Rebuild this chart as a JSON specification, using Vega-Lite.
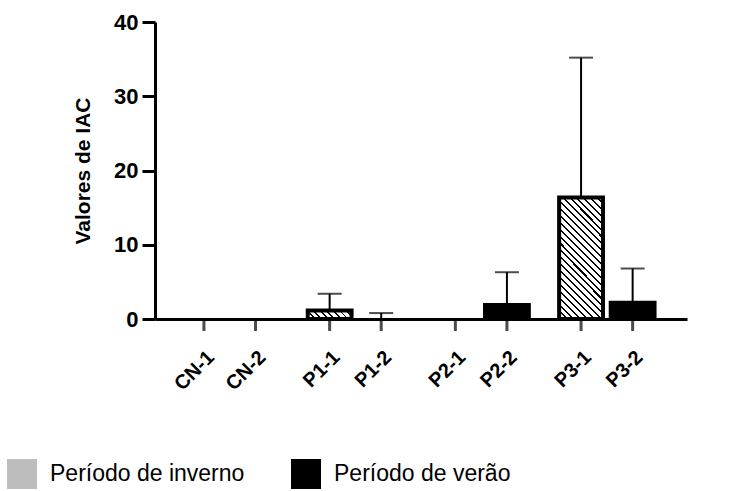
{
  "$schema": "https://vega.github.io/schema/vega-lite/v6.json",
  "width": 532,
  "height": 297,
  "autosize": {"type": "none"},
  "padding": {"left": 155, "top": 22, "right": 43, "bottom": 172},
  "background": "white",
  "config": {"view": {"stroke": null}},
  "data": {"values": [
    {"label": "CN-1", "group": "CN", "period": "Período de inverno", "mean": 0, "upper": null},
    {"label": "CN-2", "group": "CN", "period": "Período de verão", "mean": 0, "upper": null},
    {"label": "P1-1", "group": "P1", "period": "Período de inverno", "mean": 1.15, "upper": 3.4},
    {"label": "P1-2", "group": "P1", "period": "Período de verão", "mean": 0, "upper": 0.8},
    {"label": "P2-1", "group": "P2", "period": "Período de inverno", "mean": 0, "upper": null},
    {"label": "P2-2", "group": "P2", "period": "Período de verão", "mean": 1.9, "upper": 6.3},
    {"label": "P3-1", "group": "P3", "period": "Período de inverno", "mean": 16.35, "upper": 35.2},
    {"label": "P3-2", "group": "P3", "period": "Período de verão", "mean": 2.2, "upper": 6.8}
  ]},
  "encoding": {
    "x": {"field": "group", "type": "nominal", "sort": ["CN", "P1", "P2", "P3"],
      "scale": {"paddingInner": 0.2, "paddingOuter": 0.216, "align": 0.45},
      "axis": {"labels": false, "ticks": false, "title": null, "domainWidth": 3, "domainColor": "black"}},
    "xOffset": {"field": "period", "type": "nominal", "sort": ["Período de inverno", "Período de verão"],
      "scale": {"paddingInner": 0.15, "paddingOuter": 0.05}}
  },
  "layer": [
    {
      "transform": [{"filter": "datum.mean > 0"}],
      "mark": {"type": "bar", "stroke": "black", "strokeWidth": 4, "strokeJoin": "miter"},
      "encoding": {
        "y": {"field": "mean", "type": "quantitative", "title": "Valores de IAC",
          "scale": {"domain": [0, 40], "nice": false},
          "axis": {"values": [0, 10, 20, 30, 40], "grid": false, "domainWidth": 3, "domainColor": "black",
            "tickSize": 13, "tickWidth": 3, "tickColor": "black", "labelPadding": 4,
            "labelFont": "Liberation Sans", "labelFontWeight": "bold", "labelFontSize": 22, "labelColor": "black",
            "titleFont": "Liberation Sans", "titleFontWeight": "bold", "titleFontSize": 21, "titleColor": "black", "titlePadding": 20}},
        "color": {
          "condition": [
            {"test": "datum.label === 'P3-1'", "value": {"gradient": "linear", "x1": 0, "y1": 1, "x2": 0.437, "y2": -0.204, "stops": [
              {"offset": 0, "color": "black"}, {"offset": 0.0125, "color": "black"}, {"offset": 0.0125, "color": "white"}, {"offset": 0.0417, "color": "white"},
              {"offset": 0.0417, "color": "black"}, {"offset": 0.0542, "color": "black"}, {"offset": 0.0542, "color": "white"}, {"offset": 0.0833, "color": "white"},
              {"offset": 0.0833, "color": "black"}, {"offset": 0.0958, "color": "black"}, {"offset": 0.0958, "color": "white"}, {"offset": 0.125, "color": "white"},
              {"offset": 0.125, "color": "black"}, {"offset": 0.1375, "color": "black"}, {"offset": 0.1375, "color": "white"}, {"offset": 0.1667, "color": "white"},
              {"offset": 0.1667, "color": "black"}, {"offset": 0.1792, "color": "black"}, {"offset": 0.1792, "color": "white"}, {"offset": 0.2083, "color": "white"},
              {"offset": 0.2083, "color": "black"}, {"offset": 0.2208, "color": "black"}, {"offset": 0.2208, "color": "white"}, {"offset": 0.25, "color": "white"},
              {"offset": 0.25, "color": "black"}, {"offset": 0.2625, "color": "black"}, {"offset": 0.2625, "color": "white"}, {"offset": 0.2917, "color": "white"},
              {"offset": 0.2917, "color": "black"}, {"offset": 0.3042, "color": "black"}, {"offset": 0.3042, "color": "white"}, {"offset": 0.3333, "color": "white"},
              {"offset": 0.3333, "color": "black"}, {"offset": 0.3458, "color": "black"}, {"offset": 0.3458, "color": "white"}, {"offset": 0.375, "color": "white"},
              {"offset": 0.375, "color": "black"}, {"offset": 0.3875, "color": "black"}, {"offset": 0.3875, "color": "white"}, {"offset": 0.4167, "color": "white"},
              {"offset": 0.4167, "color": "black"}, {"offset": 0.4292, "color": "black"}, {"offset": 0.4292, "color": "white"}, {"offset": 0.4583, "color": "white"},
              {"offset": 0.4583, "color": "black"}, {"offset": 0.4708, "color": "black"}, {"offset": 0.4708, "color": "white"}, {"offset": 0.5, "color": "white"},
              {"offset": 0.5, "color": "black"}, {"offset": 0.5125, "color": "black"}, {"offset": 0.5125, "color": "white"}, {"offset": 0.5417, "color": "white"},
              {"offset": 0.5417, "color": "black"}, {"offset": 0.5542, "color": "black"}, {"offset": 0.5542, "color": "white"}, {"offset": 0.5833, "color": "white"},
              {"offset": 0.5833, "color": "black"}, {"offset": 0.5958, "color": "black"}, {"offset": 0.5958, "color": "white"}, {"offset": 0.625, "color": "white"},
              {"offset": 0.625, "color": "black"}, {"offset": 0.6375, "color": "black"}, {"offset": 0.6375, "color": "white"}, {"offset": 0.6667, "color": "white"},
              {"offset": 0.6667, "color": "black"}, {"offset": 0.6792, "color": "black"}, {"offset": 0.6792, "color": "white"}, {"offset": 0.7083, "color": "white"},
              {"offset": 0.7083, "color": "black"}, {"offset": 0.7208, "color": "black"}, {"offset": 0.7208, "color": "white"}, {"offset": 0.75, "color": "white"},
              {"offset": 0.75, "color": "black"}, {"offset": 0.7625, "color": "black"}, {"offset": 0.7625, "color": "white"}, {"offset": 0.7917, "color": "white"},
              {"offset": 0.7917, "color": "black"}, {"offset": 0.8042, "color": "black"}, {"offset": 0.8042, "color": "white"}, {"offset": 0.8333, "color": "white"},
              {"offset": 0.8333, "color": "black"}, {"offset": 0.8458, "color": "black"}, {"offset": 0.8458, "color": "white"}, {"offset": 0.875, "color": "white"},
              {"offset": 0.875, "color": "black"}, {"offset": 0.8875, "color": "black"}, {"offset": 0.8875, "color": "white"}, {"offset": 0.9167, "color": "white"},
              {"offset": 0.9167, "color": "black"}, {"offset": 0.9292, "color": "black"}, {"offset": 0.9292, "color": "white"}, {"offset": 0.9583, "color": "white"},
              {"offset": 0.9583, "color": "black"}, {"offset": 0.9708, "color": "black"}, {"offset": 0.9708, "color": "white"}, {"offset": 1, "color": "white"}
            ]}},
            {"test": "datum.label === 'P1-1'", "value": {"gradient": "linear", "x1": 0, "y1": 1, "x2": 1.151, "y2": 0.777, "stops": [
              {"offset": 0, "color": "black"}, {"offset": 0.0375, "color": "black"}, {"offset": 0.0375, "color": "white"}, {"offset": 0.125, "color": "white"},
              {"offset": 0.125, "color": "black"}, {"offset": 0.1625, "color": "black"}, {"offset": 0.1625, "color": "white"}, {"offset": 0.25, "color": "white"},
              {"offset": 0.25, "color": "black"}, {"offset": 0.2875, "color": "black"}, {"offset": 0.2875, "color": "white"}, {"offset": 0.375, "color": "white"},
              {"offset": 0.375, "color": "black"}, {"offset": 0.4125, "color": "black"}, {"offset": 0.4125, "color": "white"}, {"offset": 0.5, "color": "white"},
              {"offset": 0.5, "color": "black"}, {"offset": 0.5375, "color": "black"}, {"offset": 0.5375, "color": "white"}, {"offset": 0.625, "color": "white"},
              {"offset": 0.625, "color": "black"}, {"offset": 0.6625, "color": "black"}, {"offset": 0.6625, "color": "white"}, {"offset": 0.75, "color": "white"},
              {"offset": 0.75, "color": "black"}, {"offset": 0.7875, "color": "black"}, {"offset": 0.7875, "color": "white"}, {"offset": 0.875, "color": "white"},
              {"offset": 0.875, "color": "black"}, {"offset": 0.9125, "color": "black"}, {"offset": 0.9125, "color": "white"}, {"offset": 1, "color": "white"}
            ]}}
          ],
          "field": "period", "type": "nominal",
          "scale": {"domain": ["Período de inverno", "Período de verão"], "range": ["#bdbdbd", "#000000"]},
          "legend": {"orient": "none", "legendX": -148, "legendY": 437, "direction": "horizontal", "title": null,
            "symbolType": "square", "symbolSize": 900, "symbolStrokeWidth": 0, "symbolOpacity": 1,
            "labelFont": "Liberation Sans", "labelFontSize": 23, "labelColor": "black", "labelOffset": 13,
            "labelLimit": 400, "columnPadding": 46, "padding": 0}
        }
      }
    },
    {
      "transform": [{"filter": "isValid(datum.upper)"}],
      "mark": {"type": "rule", "color": "black", "strokeWidth": 2},
      "encoding": {
        "y": {"field": "mean", "type": "quantitative", "title": "Valores de IAC"},
        "y2": {"field": "upper"}
      }
    },
    {
      "transform": [{"filter": "isValid(datum.upper)"}],
      "mark": {"type": "tick", "color": "black", "size": 24, "thickness": 2, "orient": "horizontal"},
      "encoding": {
        "y": {"field": "upper", "type": "quantitative", "title": "Valores de IAC"}
      }
    },
    {
      "mark": {"type": "tick", "color": "black", "size": 12, "thickness": 3, "orient": "vertical", "yOffset": 6},
      "encoding": {
        "y": {"datum": 0, "type": "quantitative"}
      }
    },
    {
      "mark": {"type": "text", "font": "Liberation Sans", "fontWeight": "bold", "fontSize": 20, "color": "black",
        "angle": 315, "align": "right", "baseline": "top", "dx": -20, "dy": 20},
      "encoding": {
        "y": {"datum": 0, "type": "quantitative"},
        "text": {"field": "label"}
      }
    }
  ]
}
